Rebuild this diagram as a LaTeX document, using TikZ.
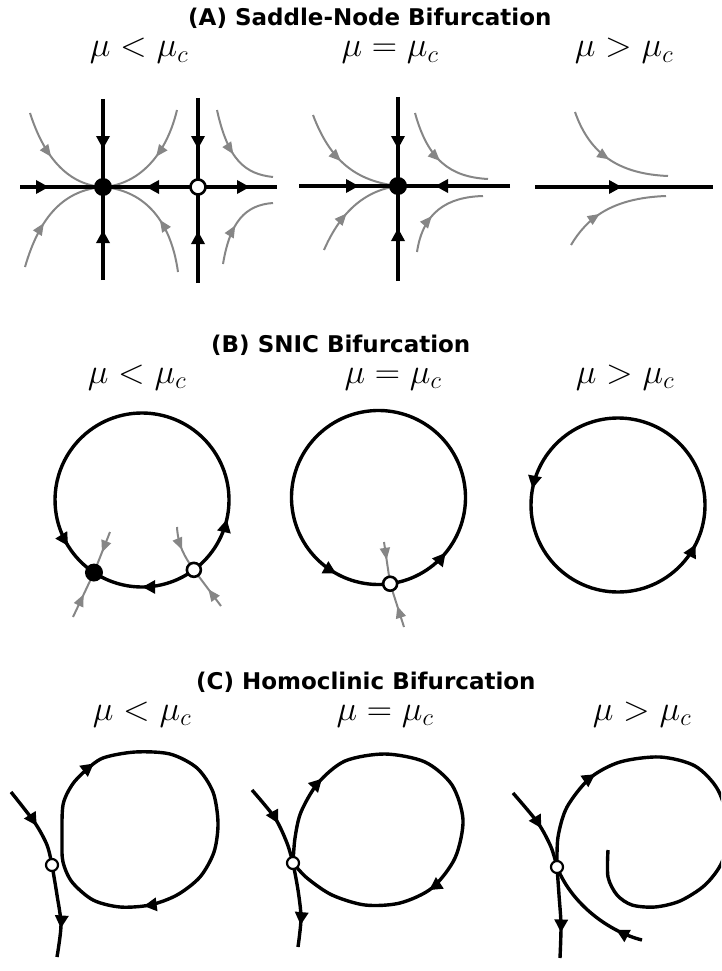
\RequirePackage{fix-cm}
\documentclass[tikz,border=0pt]{standalone}
\usepackage{fontspec}
\newfontfamily\headfont{DejaVu Sans}
\usetikzlibrary{arrows.meta,decorations.markings}
\tikzset{
    fixednode/.style={
        circle,fill=black,inner sep=0pt,minimum size=18pt
    },
    saddlenode/.style={
        circle,draw=black,fill=white,line width=2.6pt,inner sep=0pt,minimum size=14pt
    },
    orbit/.style={line width=3.4pt},
    flow/.style={color=gray!95,line width=2pt},
    flowarrow/.style={
        postaction={decorate,decoration={markings,mark=at position #1 with {\arrow{Triangle[length=13pt,width=13pt]}}}}
    },
    grayarrow/.style={
        postaction={decorate,decoration={markings,mark=at position #1 with {\arrow{Triangle[length=12pt,width=10pt]}}}}
    },
    heading/.style={anchor=base west,inner sep=0pt,font=\headfont\bfseries\fontsize{23}{28}\selectfont},
    param/.style={anchor=base,inner sep=0pt,font=\fontsize{35}{40}\selectfont}
}

\begin{document}
\begin{tikzpicture}[x=1pt,y=-1pt]
\useasboundingbox (0,0) rectangle (721,971);
\clip (0,0) rectangle (721,971);

\node[heading] (tA) at (188,26) {(A) Saddle-Node Bifurcation};
\node[heading] (tB) at (211,352) {(B) SNIC Bifurcation};
\node[heading] (tC) at (196,689) {(C) Homoclinic Bifurcation};
\node[param] (lA1) at (139,57) {$\mu<\mu_c$};
\node[param] (lA2) at (390,57) {$\mu=\mu_c$};
\node[param] (lA3) at (624,57) {$\mu>\mu_c$};
\node[param] (lB1) at (137,383) {$\mu<\mu_c$};
\node[param] (lB2) at (393,383) {$\mu=\mu_c$};
\node[param] (lB3) at (625,383) {$\mu>\mu_c$};
\node[param] (lC1) at (142,720) {$\mu<\mu_c$};
\node[param] (lC2) at (385,720) {$\mu=\mu_c$};
\node[param] (lC3) at (642,720) {$\mu>\mu_c$};

% (A) mu < mu_c
\coordinate (fA1) at (103,187);
\coordinate (sA1) at (198,187);
\foreach \n/\x/\y in {a1/20/187,a2/277/187,a3/103/99,a4/103/280,a5/198/98,a6/198/283,
    g1/30/113,g2/177/110,g3/25/267,g4/178/272,m1/217/110,m1e/273/177,m2/223/264,m2e/273/203}
    \coordinate (\n) at (\x,\y);
\draw[flow,grayarrow=0.44] (g1) .. controls (45,160) and (70,185) .. (fA1);
\draw[flow,grayarrow=0.45] (g2) .. controls (165,160) and (135,185) .. (fA1);
\draw[flow,grayarrow=0.40] (g3) .. controls (40,215) and (65,190) .. (fA1);
\draw[flow,grayarrow=0.45] (g4) .. controls (170,215) and (140,190) .. (fA1);
\draw[flow,grayarrow=0.50] (m1) .. controls (228,160) and (245,174) .. (m1e);
\draw[flow,grayarrow=0.47] (m2) .. controls (230,222) and (245,205) .. (m2e);
\draw[orbit,flowarrow=29pt] (a1) -- (fA1);
\draw[orbit,flowarrow=52pt] (sA1) -- (fA1);
\draw[orbit,flowarrow=52pt] (sA1) -- (a2);
\draw[orbit,flowarrow=50pt] (a3) -- (fA1);
\draw[orbit,flowarrow=50pt] (a4) -- (fA1);
\draw[orbit,flowarrow=51pt] (a5) -- (sA1);
\draw[orbit,flowarrow=52pt] (a6) -- (sA1);

% (A) mu = mu_c
\coordinate (fA2) at (398,186);
\foreach \n/\x/\y in {b1/299/186,b2/510/186,b3/398/97,b4/398/281,
    h1/313/115,h2/324/250,h3/415/113,h3e/488/179,h4/417/252,h4e/483/196}
    \coordinate (\n) at (\x,\y);
\draw[flow,grayarrow=0.46] (h1) .. controls (330,160) and (355,181) .. (fA2);
\draw[flow,grayarrow=0.42] (h2) .. controls (338,218) and (360,191) .. (fA2);
\draw[flow,grayarrow=0.51] (h3) .. controls (428,160) and (450,177) .. (h3e);
\draw[flow,grayarrow=0.41] (h4) .. controls (423,212) and (447,197) .. (h4e);
\draw[orbit,flowarrow=60pt] (b1) -- (fA2);
\draw[orbit,flowarrow=75pt] (b2) -- (fA2);
\draw[orbit,flowarrow=52pt] (b3) -- (fA2);
\draw[orbit,flowarrow=53pt] (b4) -- (fA2);

% (A) mu > mu_c
\foreach \n/\x/\y in {c1/535/187,c2/713/187,k1/575/112,k1e/668/176,k2/571/245,k2e/666/196}
    \coordinate (\n) at (\x,\y);
\draw[flow,grayarrow=0.49] (k1) .. controls (590,155) and (620,174) .. (k1e);
\draw[flow,grayarrow=0.38] (k2) .. controls (587,218) and (612,198) .. (k2e);
\draw[orbit,flowarrow=87pt] (c1) -- (c2);

% (B) SNIC
\coordinate (cB1) at (142,500);
\path (cB1) ++(123.5:87) coordinate (fB1);
\path (cB1) ++(53.4:87) coordinate (sB1);
\coordinate (cB2) at (378.5,497.5);
\path (cB2) ++(82.3:87) coordinate (sB2);
\coordinate (cB3) at (618,505);
\path (cB3) ++(0:87) coordinate (rB3);
\foreach \n/\x/\y in {p1/110/532,p2/73/617,p3/177/527,p4/221/606,q1/384/542,q2/404/627}
    \coordinate (\n) at (\x,\y);
\draw[flow,grayarrow=22pt] (p1) -- (fB1);
\draw[flow,grayarrow=25pt] (p2) -- (fB1);
\draw[flow,grayarrow=0.5] (p3) .. controls (178,545) and (184,556) .. (sB1);
\draw[flow,grayarrow=21pt] (p4) -- (sB1);
\draw[flow,grayarrow=18pt] (q1) -- (sB2);
\draw[flow,grayarrow=22pt] (q2) -- (sB2);
\draw[orbit,flowarrow=0.52] (sB1) arc[start angle=53.4,end angle=123.5,radius=87];
\draw[orbit,flowarrow=0.14,flowarrow=0.915] (sB1) arc[start angle=53.4,end angle=-236.5,radius=87];
\draw[orbit,flowarrow=0.119,flowarrow=0.898] (sB2) arc[start angle=82.3,end angle=-277.7,radius=87];
\draw[orbit,flowarrow=0.47,flowarrow=0.925] (rB3) arc[start angle=360,end angle=0,radius=87];

% (C) Homoclinic
\coordinate (sC1) at (52,865);
\coordinate (sC2) at (293,863);
\coordinate (sC3) at (557,867);
\foreach \n/\x/\y in {r1/11/792,r2/57/957,r3/252/790,r4/298/947,r5/513/793,r6/560/958,r7/642/940,r8/608/850}
    \coordinate (\n) at (\x,\y);
\draw[orbit,flowarrow=0.5] plot[smooth] coordinates {(r1) (35,823) (47,845) (sC1)};
\draw[orbit,flowarrow=0.69] plot[smooth] coordinates {(sC1) (57,895) (61,925) (r2)};
\draw[orbit,flowarrow=0.105,flowarrow=0.685] plot[smooth cycle] coordinates {(62,840) (63,805) (72,785) (85,771) (103,758) (135,752) (170,754) (197,768) (213,792) (218,823) (214,852) (200,877) (177,895) (150,905) (120,907) (93,900) (72,882) (63,862)};
\draw[orbit,flowarrow=0.5] plot[smooth] coordinates {(r3) (275,818) (287,843) (sC2)};
\draw[orbit,flowarrow=0.74] plot[smooth] coordinates {(sC2) (298,890) (301,918) (r4)};
\draw[orbit,flowarrow=0.18,flowarrow=0.70] plot[smooth] coordinates {(sC2) (295,838) (301,812) (318,783) (345,761) (385,754) (425,762) (452,785) (463,820) (455,858) (432,888) (400,903) (365,905) (332,895) (307,878) (sC2)};
\draw[orbit,flowarrow=0.52] plot[smooth] coordinates {(r5) (538,823) (551,847) (sC3)};
\draw[orbit,flowarrow=0.72] plot[smooth] coordinates {(sC3) (559,895) (561,925) (r6)};
\draw[orbit,flowarrow=0.24] (r7) .. controls (610,932) and (572,905) .. (sC3);
\draw[orbit,flowarrow=0.214] plot[smooth] coordinates {(sC3) (558,837) (567,807) (590,778) (620,762) (660,757) (695,766) (718,790) (729,828) (722,862) (705,885) (680,901) (655,907) (632,905) (617,895) (608,877) (r8)};

\node[fixednode] (nA1) at (fA1) {};
\node[saddlenode,minimum size=15pt] (nA2) at (sA1) {};
\node[fixednode] (nA3) at (fA2) {};
\node[fixednode] (nB1) at (fB1) {};
\node[saddlenode] (nB2) at (sB1) {};
\node[saddlenode] (nB3) at (sB2) {};
\node[saddlenode,minimum size=12pt,line width=2.2pt] (nC1) at (sC1) {};
\node[saddlenode,minimum size=12pt,line width=2.2pt] (nC2) at (sC2) {};
\node[saddlenode,minimum size=12pt,line width=2.2pt] (nC3) at (sC3) {};
\end{tikzpicture}
\end{document}
